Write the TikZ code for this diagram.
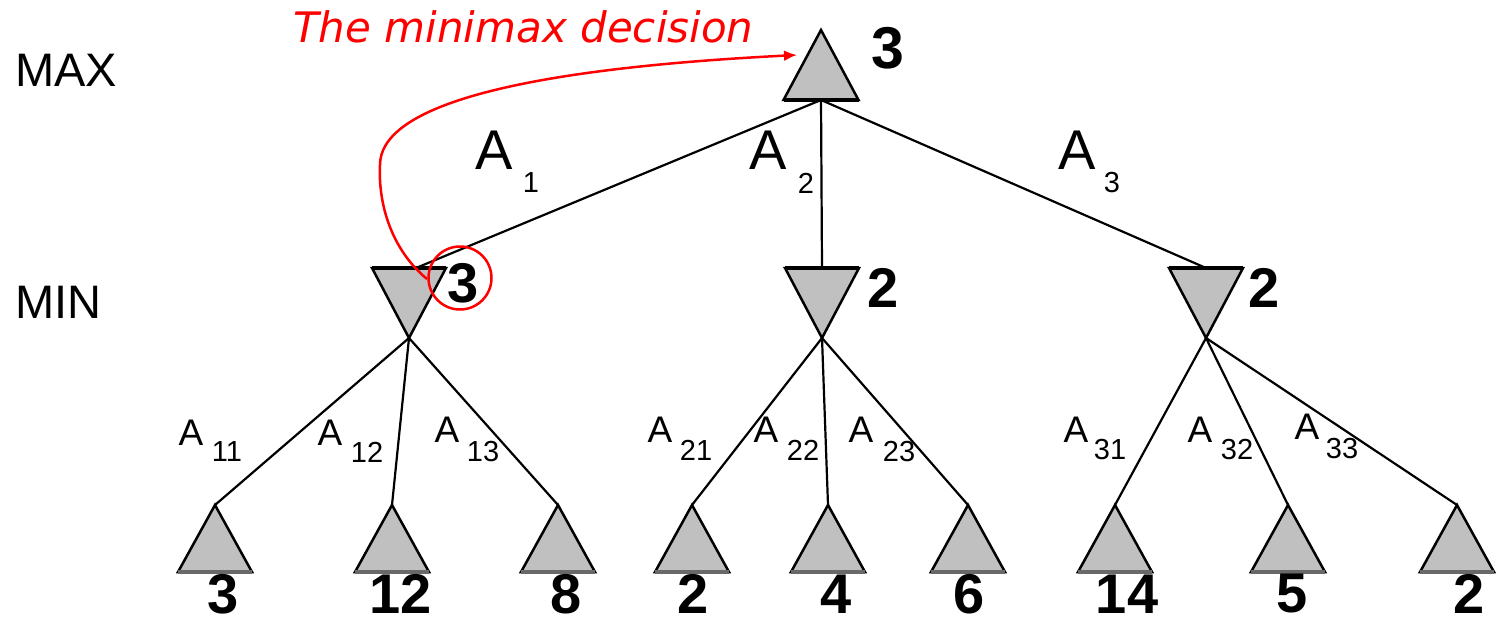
\documentclass[tikz,border=0pt]{standalone}
\usepackage{fontspec}
\setmainfont{Liberation Sans}
\newfontfamily\verd{DejaVu Sans}
\usetikzlibrary{arrows.meta}
\definecolor{trifill}{RGB}{192,192,192}
\definecolor{decred}{RGB}{255,0,0}
\definecolor{leafbase}{RGB}{105,105,105}
\tikzset{
  tri/.style={fill=trifill,draw=black,line width=2.5pt,line join=miter},
  edge/.style={draw=black,line width=2.2pt},
  val/.style={font=\fontsize{56}{60}\selectfont\bfseries,inner sep=0},
  bigA/.style={font=\fontsize{56}{60}\selectfont,inner sep=0},
  bigsub/.style={font=\fontsize{29}{32}\selectfont,inner sep=0},
  smallA/.style={font=\fontsize{37}{40}\selectfont,inner sep=0},
  smallsub/.style={font=\fontsize{29}{32}\selectfont,inner sep=0},
  level/.style={font=\fontsize{47}{50}\selectfont,inner sep=0,anchor=west},
  maxtri/.pic={
    \path[tri] (0,0) -- (37.5,70) -- (-37.5,70) -- cycle;
    \draw[line width=4pt] (-37.5,70) -- (37.5,70);
    \coordinate (-top) at (0,0);
    \coordinate (-bot) at (0,70);
  },
  mintri/.pic={
    \path[tri] (-37,0) -- (37,0) -- (0,70) -- cycle;
    \draw[line width=4pt] (-37,0) -- (37,0);
    \coordinate (-top) at (0,0);
    \coordinate (-bot) at (0,70);
  },
  leaftri/.pic={
    \path[tri] (0,0) -- (37,67) -- (-37,67) -- cycle;
    \draw[leafbase,line width=4pt] (-37,67) -- (37,67);
    \coordinate (-top) at (0,0);
    \coordinate (-bot) at (0,67);
  }
}
\begin{document}
\begin{tikzpicture}[x=1pt,y=-1pt]
\useasboundingbox (0,0) rectangle (1503,623);
% level labels
\node[level] (lmax) at (15,70) {MAX};
\node[level] (lmin) at (15,302) {MIN};
% coordinates of the tree (edges first)
\coordinate (rootB) at (821,100);
\coordinate (m1T) at (416,268);
\coordinate (m2T) at (822,268);
\coordinate (m3T) at (1206,268);
% edges root -> min
\draw[edge] (rootB) -- (m1T);
\draw[edge] (rootB) -- (m2T);
\draw[edge] (rootB) -- (m3T);
% triangles
\pic (root) at (821,30) {maxtri};
\pic (m1) at (409,268) {mintri};
\pic (m2) at (822,268) {mintri};
\pic (m3) at (1206,268) {mintri};
\foreach \n/\x in {l1/215,l2/392,l3/558,l4/692,l5/828,l6/968,l7/1115,l8/1288,l9/1457}{
  \pic (\n) at (\x,505) {leaftri};
}
% edges min -> leaves
\draw[edge] (m1-bot) -- (l1-top);
\draw[edge] (m1-bot) -- (l2-top);
\draw[edge] (m1-bot) -- (l3-top);
\draw[edge] (m2-bot) -- (l4-top);
\draw[edge] (m2-bot) -- (l5-top);
\draw[edge] (m2-bot) -- (l6-top);
\draw[edge] (m3-bot) -- (l7-top);
\draw[edge] (m3-bot) -- (l8-top);
\draw[edge] (m3-bot) -- (l9-top);
% values
\node[val,font=\fontsize{59}{62}\selectfont\bfseries] (vroot) at (888,48) {3};
\node[val] (vm1) at (463,283) {3};
\node[val] (vm2) at (883,288) {2};
\node[val] (vm3) at (1264,288) {2};
\node[val] (v1) at (223,594) {3};
\node[val] (v2) at (401,594) {12};
\node[val] (v3) at (566,594) {8};
\node[val] (v4) at (693,594) {2};
\node[val] (v5) at (836,594) {4};
\node[val] (v6) at (969,594) {6};
\node[val] (v7) at (1127,594) {14};
\node[val] (v8) at (1292,594) {5};
\node[val] (v9) at (1469,594) {2};
% action labels (top)
\node[bigA] (a1) at (494,150) {A};
\node[bigsub] (a1s) at (531,183) {1};
\node[bigA] (a2) at (768,150) {A};
\node[bigsub] (a2s) at (806,183) {2};
\node[bigA] (a3) at (1077,150) {A};
\node[bigsub] (a3s) at (1112,183) {3};
% action labels (bottom)
\node[smallA] (a11) at (191,433) {A};
\node[smallsub] (a11s) at (227,452) {11};
\node[smallA] (a12) at (330,433) {A};
\node[smallsub] (a12s) at (367,452) {12};
\node[smallA] (a13) at (447,430) {A};
\node[smallsub] (a13s) at (483,452) {13};
\node[smallA] (a21) at (660,430) {A};
\node[smallsub] (a21s) at (696,450) {21};
\node[smallA] (a22) at (766,430) {A};
\node[smallsub] (a22s) at (803,450) {22};
\node[smallA] (a23) at (861,430) {A};
\node[smallsub] (a23s) at (899,452) {23};
\node[smallA] (a31) at (1076,430) {A};
\node[smallsub] (a31s) at (1110,450) {31};
\node[smallA] (a32) at (1200,430) {A};
\node[smallsub] (a32s) at (1237,450) {32};
\node[smallA] (a33) at (1307,427) {A};
\node[smallsub] (a33s) at (1342,449) {33};
% minimax decision annotation
\node[font=\verd\itshape\fontsize{42}{46}\selectfont,text=decred,inner sep=0,anchor=base west] (dec) at (293,43) {The minimax decision};
\node[draw=decred,line width=2.5pt,circle,minimum size=63pt,inner sep=0] (circ) at (460,278) {};
\coordinate (cstart) at (427,279);
\coordinate (cmid) at (380,165);
\coordinate (arrowend) at (797,55);
\draw[decred,line width=2.5pt,-{Latex[length=13pt,width=11pt]}]
  (cstart) .. controls (392,250) and (378,205) .. (cmid)
  .. controls (380,110) and (500,70) .. (arrowend);
\end{tikzpicture}
\end{document}
